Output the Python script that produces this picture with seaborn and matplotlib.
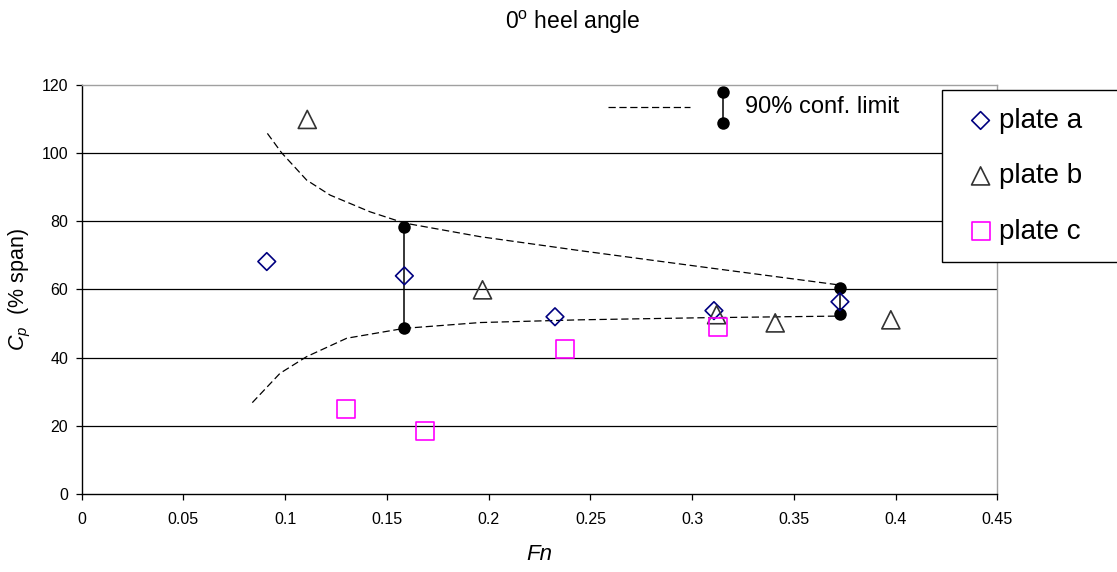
import numpy as np
import pandas as pd
import matplotlib
matplotlib.use("Agg")
import matplotlib.pyplot as plt
import seaborn as sns

# ── Data ──────────────────────────────────────────────────
plate_a_fn = [0.091, 0.1586, 0.2326, 0.3107, 0.3726]
plate_a_cp = [68.2, 64.0, 52.0, 53.8, 56.4]

plate_b_fn = [0.1109, 0.197, 0.312, 0.3408, 0.3976]
plate_b_cp = [109.9, 59.9, 52.6, 50.2, 51.1]

plate_c_fn = [0.1298, 0.1687, 0.2375, 0.3125]
plate_c_cp = [24.9, 18.6, 42.6, 48.9]

upper_fn = [0.0913, 0.0983, 0.1106, 0.1221, 0.1417, 0.1586, 0.1958, 0.2449, 0.3039, 0.3726]
upper_cp = [105.8, 100.1, 92.1, 87.7, 82.8, 79.5, 75.5, 71.4, 66.7, 61.3]

lower_fn = [0.0839, 0.0975, 0.1106, 0.1303, 0.1586, 0.1958, 0.2449, 0.3039, 0.3726]
lower_cp = [26.8, 35.4, 40.3, 45.7, 48.6, 50.3, 51.1, 51.7, 52.2]

conf_fn = [0.1586, 0.3726]
conf_lo = [48.6, 52.7]
conf_hi = [78.4, 60.4]

x_ticks = [0, 0.05, 0.1, 0.15, 0.2, 0.25, 0.3, 0.35, 0.4, 0.45]
x_tick_labels = ["0", "0.05", "0.1", "0.15", "0.2", "0.25", "0.3", "0.35", "0.4", "0.45"]
y_ticks = [0, 20, 40, 60, 80, 100, 120]

plates = {
    "plate a": (plate_a_fn, plate_a_cp, "D", 81, "#000080"),
    "plate b": (plate_b_fn, plate_b_cp, "^", 169, "#333333"),
    "plate c": (plate_c_fn, plate_c_cp, "s", 169, "#FF00FF"),
}

# ── Style ─────────────────────────────────────────────────
sns.set_theme(style="white")
plt.rcParams["font.family"] = ["Liberation Sans", "DejaVu Sans"]
plt.rcParams["mathtext.fontset"] = "custom"
plt.rcParams["mathtext.rm"] = "Liberation Sans"
plt.rcParams["mathtext.it"] = "Liberation Sans:italic"
for key in ["text.color", "axes.labelcolor", "xtick.color", "ytick.color"]:
    plt.rcParams[key] = "black"

fig = plt.figure(figsize=(11.17, 5.72), dpi=100)
ax = fig.add_axes([0.0730, 0.1364, 0.8200, 0.7150])

# grid lines
for yv in y_ticks[1:-1]:
    ax.axhline(yv, color="black", lw=0.9, zorder=0)

# dashed confidence curves
dash = (0, (5.8, 2.9))
sns.lineplot(x=upper_fn, y=upper_cp, ax=ax, color="black", lw=0.9,
             linestyle=dash, sort=False, estimator=None, zorder=2)
sns.lineplot(x=lower_fn, y=lower_cp, ax=ax, color="black", lw=0.9,
             linestyle=dash, sort=False, estimator=None, zorder=2)

# 90% conf. limit bars
for xf, lo, hi in zip(conf_fn, conf_lo, conf_hi):
    sns.lineplot(x=[xf, xf], y=[lo, hi], ax=ax, color="black", lw=1.1,
                 marker="o", markersize=9, markeredgewidth=0,
                 sort=False, estimator=None, zorder=3)

# plate measurements (hollow markers)
for name, (fn, cp, mk, sz, col) in plates.items():
    df = pd.DataFrame({"Fn": fn, "Cp": cp})
    sns.scatterplot(data=df, x="Fn", y="Cp", ax=ax, marker=mk, s=sz,
                    color=col, facecolor="none", edgecolor=col,
                    linewidth=1.2, label=name, zorder=4)

ax.set_xlim(0, 0.45)
ax.set_ylim(0, 120)
ax.set_xticks(x_ticks)
ax.set_xticklabels(x_tick_labels)
ax.set_yticks(y_ticks)
ax.tick_params(axis="both", which="major", direction="out", length=4,
               width=0.9, color="black", labelsize=11.5, pad=5.5,
               bottom=True, left=True)
ax.tick_params(axis="x", pad=9)

for side in ["left", "bottom"]:
    ax.spines[side].set_color("black")
    ax.spines[side].set_linewidth(1.0)
for side in ["top", "right"]:
    ax.spines[side].set_color("#a0a0a0")
    ax.spines[side].set_linewidth(1.0)

ax.set_xlabel("Fn", fontsize=16, style="italic", labelpad=12)
ax.set_ylabel("$C_p$  (% span)", fontsize=15.5, labelpad=6)

fig.text(0.513, 0.9493, "0$^{\\mathrm{o}}$ heel angle", ha="center",
         va="baseline", fontsize=16.5)

# in-plot key for the confidence limits
ax.plot([0.5748, 0.6643], [0.947, 0.947], transform=ax.transAxes,
        color="black", lw=0.9, linestyle=dash)
ax.plot([0.7007, 0.7007], [0.9064, 0.9836], transform=ax.transAxes,
        color="black", lw=1.1, marker="o", markersize=9, markeredgewidth=0,
        clip_on=False)
ax.text(0.7243, 0.947, "90% conf. limit", transform=ax.transAxes,
        ha="left", va="center", fontsize=17)

# plate legend, sticking out past the right edge like the original
leg = ax.legend(loc="upper left", bbox_to_anchor=(0.8433, 0.0, 0.2, 0.8427),
                bbox_transform=fig.transFigure, mode="expand",
                fontsize=20, frameon=True, fancybox=False, borderaxespad=0,
                borderpad=0.64, handlelength=1.5, handletextpad=-0.1,
                labelspacing=1.06)
leg.get_frame().set_edgecolor("black")
leg.get_frame().set_linewidth(1.0)
leg.get_frame().set_alpha(1)

fig.savefig("out.png", dpi=100)
